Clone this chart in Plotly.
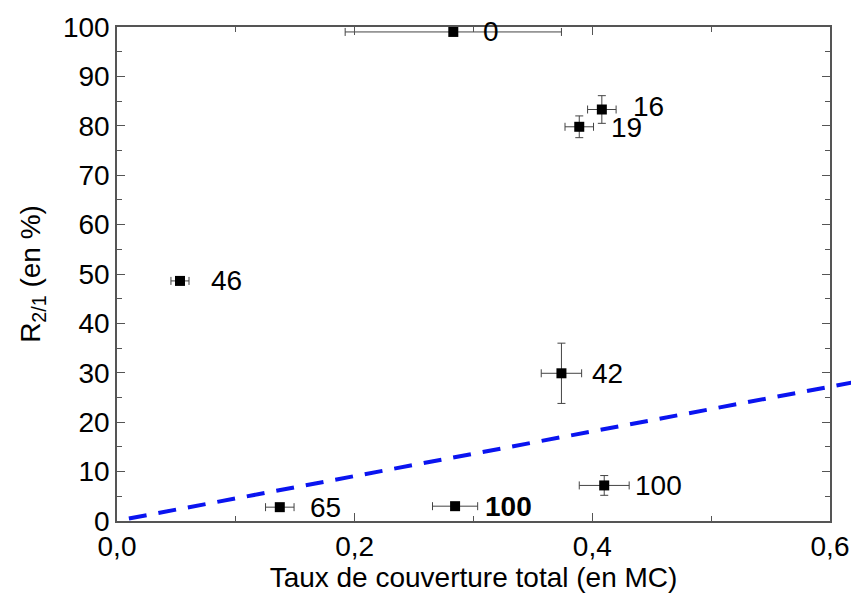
import plotly.graph_objects as go

# Data
x_vals = [0.283, 0.408, 0.389, 0.053, 0.374, 0.410, 0.2845, 0.137]
y_vals = [99.0, 83.3, 79.8, 48.6, 29.9, 7.2, 3.0, 2.8]
x_err = [0.091, 0.012, 0.012, 0.0076, 0.017, 0.021, 0.019, 0.012]
y_err = [0.0, 2.8, 2.2, 0.0, 6.1, 2.0, 0.0, 0.0]
labels = ["0", "16", "19", "46", "42", "100", "<b>100</b>", "65"]

line_x = [0.01, 0.62]
line_y = [0.5, 28.1]

x_ticks = [0.0, 0.2, 0.4, 0.6]
y_ticks = [0, 10, 20, 30, 40, 50, 60, 70, 80, 90, 100]

# label offsets (pixels) - styling
label_dx = [28, 29, 30, 29, 29, 29, 28, 28]
label_dy = [0, 3, -1, 0, 0, 0, 0, 0]

FONT = "Liberation Sans, Arial, sans-serif"
FS = 28
W, H = 851, 595
ML, MR, MT, MB = 117, 0, 27, 74
plot_right = 830
d = (plot_right - ML) / (W - ML - MR)
XMAX = 0.6

fig = go.Figure()

fig.add_trace(go.Scatter(
    x=line_x, y=line_y, mode="lines", xaxis="x2", yaxis="y2",
    line=dict(color="#0a14f0", width=4, dash="18px,12px"),
    hoverinfo="skip", showlegend=False,
))

fig.add_trace(go.Scatter(
    x=x_vals, y=y_vals, mode="markers",
    marker=dict(symbol="square", size=10, color="black"),
    error_x=dict(type="data", array=x_err, color="#444", thickness=1, width=4),
    error_y=dict(type="data", array=y_err, color="#444", thickness=1, width=4),
    showlegend=False, cliponaxis=False,
))

for xv, yv, t, dx, dy in zip(x_vals, y_vals, labels, label_dx, label_dy):
    fig.add_annotation(x=xv, y=yv, xref="x", yref="y", text=t, showarrow=False,
                       xanchor="left", yanchor="middle", xshift=dx, yshift=dy,
                       font=dict(family=FONT, size=FS, color="black"))

axis_common = dict(showline=True, linecolor="#555", linewidth=1.5, mirror="allticks",
                   ticks="inside", ticklen=8, tickwidth=1, tickcolor="#555",
                   showgrid=False, zeroline=False, automargin=False,
                   tickfont=dict(family=FONT, size=FS, color="black"))

fig.update_layout(
    width=W, height=H,
    margin=dict(l=ML, r=MR, t=MT, b=MB),
    paper_bgcolor="white", plot_bgcolor="rgba(0,0,0,0)",
    separators=", ",
    xaxis=dict(domain=[0, d], range=[0, XMAX], tickvals=x_ticks, tickformat=".1f",
               minor=dict(dtick=0.1, ticks="inside", ticklen=5, tickcolor="#555"),
               title=dict(text="Taux de couverture total (en MC)", standoff=2,
                          font=dict(family=FONT, size=FS, color="black")),
               **axis_common),
    yaxis=dict(domain=[0, 1], range=[0, 100], tickvals=y_ticks,
               minor=dict(dtick=5, ticks="inside", ticklen=5, tickcolor="#555"),
               title=dict(text="R<sub>2/1</sub> (en %)", standoff=14,
                          font=dict(family=FONT, size=FS, color="black")),
               **axis_common),
    xaxis2=dict(domain=[0, 1], range=[0, XMAX / d], anchor="y2", visible=False),
    yaxis2=dict(domain=[0, 1], range=[0, 100], anchor="x2", visible=False),
)

fig.write_html("out.html", config={"displayModeBar": False},
               post_script="document.body.style.margin='0';")
